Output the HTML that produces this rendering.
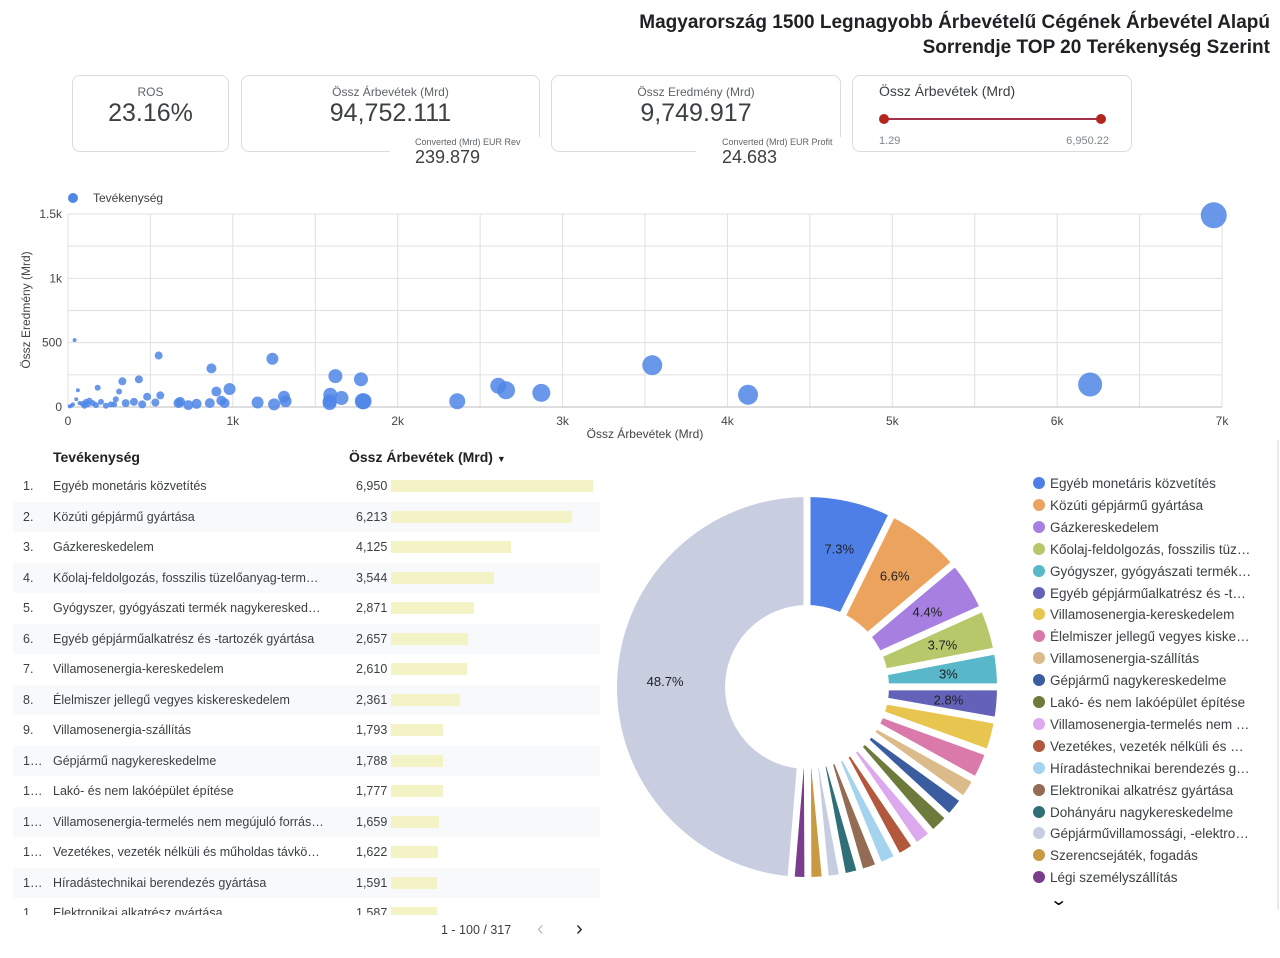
<!DOCTYPE html>
<html><head><meta charset="utf-8"><style>
body{margin:0;width:1280px;height:958px;background:#fff;font-family:"Liberation Sans",sans-serif;position:relative;overflow:hidden;color:#202124}
.abs{position:absolute}
.card{position:absolute;border:1px solid #dadce0;border-radius:8px;background:#fff}
.lbl{font-size:12px;color:#5f6368;text-align:center}
.big{font-size:25px;color:#3c4043;text-align:center}
.row{position:absolute;left:13px;width:587px;height:30px;font-size:12.5px;color:#3c4043}
.row span{position:absolute;top:8px}
.leg{position:absolute;left:1033px;font-size:13.5px;color:#3c4043;white-space:nowrap}
.leg i{display:inline-block;width:12px;height:12px;border-radius:50%;margin-right:5px;vertical-align:-1px}
</style></head><body>
<div class="abs" style="right:10px;top:10px;text-align:right;font-size:19px;font-weight:bold;line-height:25px;color:#202124">Magyarország 1500 Legnagyobb Árbevételű Cégének Árbevétel Alapú<br>Sorrendje TOP 20 Terékenység Szerint</div>

<div class="card" style="left:72px;top:75px;width:155px;height:75px">
<div class="lbl" style="margin-top:9px">ROS</div><div class="big">23.16%</div></div>
<div class="card" style="left:241px;top:75px;width:297px;height:75px">
<div class="lbl" style="margin-top:9px">Össz Árbevétek (Mrd)</div><div class="big">94,752.111</div></div>
<div class="abs" style="left:390px;top:137px;width:150px;height:34px;background:#fff">
<div style="font-size:9px;color:#5f6368;margin-left:25px">Converted (Mrd) EUR Rev</div><div style="font-size:18px;color:#3c4043;margin-left:25px">239.879</div></div>
<div class="card" style="left:551px;top:75px;width:288px;height:75px">
<div class="lbl" style="margin-top:9px">Össz Eredmény (Mrd)</div><div class="big">9,749.917</div></div>
<div class="abs" style="left:696px;top:137px;width:145px;height:34px;background:#fff">
<div style="font-size:9px;color:#5f6368;margin-left:26px">Converted (Mrd) EUR Profit</div><div style="font-size:18px;color:#3c4043;margin-left:26px">24.683</div></div>
<div class="card" style="left:852px;top:75px;width:278px;height:75px">
<div style="position:absolute;left:26px;top:7px;font-size:14px;color:#3c4043">Össz Árbevétek (Mrd)</div>
<div style="position:absolute;left:31px;top:42px;width:218px;height:2px;background:#a3324a"></div>
<div style="position:absolute;left:26px;top:38px;width:10px;height:10px;border-radius:50%;background:#b3261e"></div>
<div style="position:absolute;left:243px;top:38px;width:10px;height:10px;border-radius:50%;background:#b3261e"></div>
<div style="position:absolute;left:26px;top:59px;font-size:11px;color:#80868b">1.29</div>
<div style="position:absolute;right:22px;top:59px;font-size:11px;color:#80868b">6,950.22</div></div>

<svg id="scatter" class="abs" style="left:0;top:185px" width="1280" height="260"></svg>

<div class="abs" style="left:53px;top:449px;font-size:14px;font-weight:bold">Tevékenység</div>
<div class="abs" style="left:349px;top:449px;font-size:14px;font-weight:bold">Össz Árbevétek (Mrd) <span style="font-size:9px">▼</span></div>
<div id="table" class="abs" style="left:0;top:0;width:620px;height:915px;overflow:hidden"></div>
<div class="abs" style="left:441px;top:923px;font-size:12.5px;color:#3c4043">1 - 100 / 317</div>
<div class="abs" style="left:537px;top:918px;font-size:20px;color:#bdc1c6">‹</div>
<div class="abs" style="left:576px;top:918px;font-size:20px;color:#202124">›</div>

<svg id="pie" class="abs" style="left:600px;top:480px" width="420" height="420"></svg>
<div id="legend"></div>
<div class="abs" style="left:1052px;top:890px;font-size:16px;color:#000;transform:scaleX(1.4)">⌄</div>
<div class="abs" style="left:1277px;top:440px;width:2px;height:470px;background:#e8eaed"></div>

<script>
const NS='http://www.w3.org/2000/svg';
function mk(p,t,a){const e=document.createElementNS(NS,t);for(const k in a)e.setAttribute(k,a[k]);p.appendChild(e);return e;}
// ---- scatter data ----
const revX=[6950,6200,4125,3544,2871,2657,2610,2361,1793,1788,1777,1659,1622,1591,1587,1587,1320,1310,1250,1240,1150,980,950,930,900,860,870,780,730,680,670,550,560,530,480,430,450,400,330,310,350,290,280,260,230,180,200,170,150,130,120,100,90,60,50,40,30,20,10,70,110];
const profY=[1490,175,95,325,110,130,165,45,45,45,215,70,240,95,30,45,45,80,20,375,35,140,30,50,120,30,300,25,15,40,30,400,90,35,80,215,20,40,200,120,30,60,20,20,10,150,40,15,30,50,20,10,25,130,60,520,20,10,5,30,40];
const bubR=[13,12,10,10,9,9,8,8,8,8,7,7,7,7,7,7,6,6,6,6,6,6,5,5,5,5,5,5,5,5,5,4,4,4,4,4,4,4,4,3,4,3,3,3,3,3,3,3,3,3,3,3,3,2,2,2,2,2,2,2,3];
const xTicks=[0,1000,2000,3000,4000,5000,6000,7000];
const xTickLbl=['0','1k','2k','3k','4k','5k','6k','7k'];
const yTicks=[0,500,1000,1500];
const yTickLbl=['0','500','1k','1.5k'];
const sc=document.getElementById('scatter');
const X=v=>68+v*(1222-68)/7000, Y=v=>222-v*(222-29)/1500;
for(let v=0;v<=1500;v+=250){const g=mk(sc,'line',{x1:68,x2:1222,y1:Y(v),y2:Y(v),stroke:'#e0e0e0'});}
for(let v=0;v<=7000;v+=500){const g=mk(sc,'line',{x1:X(v),x2:X(v),y1:Y(0),y2:Y(1500),stroke:'#e0e0e0'});}
mk(sc,'line',{x1:68,x2:1222,y1:Y(0),y2:Y(0),stroke:'#bdbdbd'});
xTicks.forEach((v,i)=>{const t=mk(sc,'text',{x:X(v),y:240,'font-size':12,fill:'#444','text-anchor':'middle'});t.textContent=xTickLbl[i];});
yTicks.forEach((v,i)=>{const t=mk(sc,'text',{x:62,y:Y(v)+4,'font-size':12,fill:'#444','text-anchor':'end'});t.textContent=yTickLbl[i];});
let t=mk(sc,'text',{x:645,y:253,'font-size':12,fill:'#444','text-anchor':'middle'});t.textContent='Össz Árbevétek (Mrd)';
t=mk(sc,'text',{x:0,y:0,'font-size':12,fill:'#444','text-anchor':'middle',transform:'translate(30,125) rotate(-90)'});t.textContent='Össz Eredmény (Mrd)';
let c=mk(sc,'circle',{cx:73,cy:13,r:5,fill:'#4f86e8'});
t=mk(sc,'text',{x:93,y:17,'font-size':12,fill:'#3c4043'});t.textContent='Tevékenység';
revX.forEach((v,i)=>{const p=mk(sc,'circle',{cx:X(v),cy:Y(profY[i]),r:bubR[i],fill:'#4f86e8','fill-opacity':0.85});});

// ---- table ----
const names=['Egyéb monetáris közvetítés','Közúti gépjármű gyártása','Gázkereskedelem','Kőolaj-feldolgozás, fosszilis tüzelőanyag-term…','Gyógyszer, gyógyászati termék nagykeresked…','Egyéb gépjárműalkatrész és -tartozék gyártása','Villamosenergia-kereskedelem','Élelmiszer jellegű vegyes kiskereskedelem','Villamosenergia-szállítás','Gépjármű nagykereskedelme','Lakó- és nem lakóépület építése','Villamosenergia-termelés nem megújuló forrás…','Vezetékes, vezeték nélküli és műholdas távkö…','Híradástechnikai berendezés gyártása','Elektronikai alkatrész gyártása'];
const revenue=[6950,6213,4125,3544,2871,2657,2610,2361,1793,1788,1777,1659,1622,1591,1587];
const tb=document.getElementById('table');
names.forEach((n,i)=>{const r=document.createElement('div');r.className='row';r.style.top=(471+i*30.5)+'px';if(i%2)r.style.background='#f8f9fa';


r.innerHTML='<span style="left:10px">'+(i<9?(i+1)+'.':'1…')+'</span><span style="left:40px">'+n+'</span><span style="left:343px">'+revenue[i].toLocaleString('en-US')+'</span><div style="position:absolute;left:378px;top:9px;height:12px;background:#f3f3c6;width:'+(revenue[i]*202/6950)+'px"></div>';
tb.appendChild(r);});

// ---- donut ----
const pieLabels=['Egyéb monetáris közvetítés','Közúti gépjármű gyártása','Gázkereskedelem','Kőolaj-feldolgozás, fosszilis tüz…','Gyógyszer, gyógyászati termék…','Egyéb gépjárműalkatrész és -t…','Villamosenergia-kereskedelem','Élelmiszer jellegű vegyes kiske…','Villamosenergia-szállítás','Gépjármű nagykereskedelme','Lakó- és nem lakóépület építése','Villamosenergia-termelés nem …','Vezetékes, vezeték nélküli és …','Híradástechnikai berendezés g…','Elektronikai alkatrész gyártása','Dohányáru nagykereskedelme','Gépjárművillamossági, -elektro…','Szerencsejáték, fogadás','Légi személyszállítás','Egyéb'];
const pieShare=[7.3,6.6,4.4,3.7,3.0,2.8,2.75,2.5,1.9,1.9,1.9,1.75,1.7,1.7,1.65,1.5,1.45,1.45,1.4,48.7];
const pieColors=['#4e7fe6','#eba35e','#a67fe0','#b7c86b','#58b7c8','#6362b8','#e7c54f','#d97aab','#dcbb8a','#3a5da0','#6c7a3b','#dca8ee','#b2583c','#a3d3ef','#946b55','#2f7078','#c6cde0','#c99a42','#7a3c8c','#c8cee0'];
const pie=document.getElementById('pie');const cx=207,cy=207,R=190,r0=82;
const tot=pieShare.reduce((a,b)=>a+b,0);let a0=0;
const pt=(a,rr)=>[cx+rr*Math.sin(a),cy-rr*Math.cos(a)];
const bounds=[];
pieShare.forEach((v,i)=>{const a1=a0+v/tot*2*Math.PI;const [x0,y0]=pt(a0,R),[x1,y1]=pt(a1,R);const lg=(a1-a0)>Math.PI?1:0;
const p=mk(pie,'path',{d:`M${cx} ${cy}L${x0} ${y0}A${R} ${R} 0 ${lg} 1 ${x1} ${y1}Z`,fill:pieColors[i]});


bounds.push(a0);
if(v>=2.8){const [lx,ly]=pt((a0+a1)/2,i==19?142:142);const tx=mk(pie,'text',{x:lx,y:ly+5,'font-size':13,fill:'#202124','text-anchor':'middle'});tx.textContent=(Math.round(v*10)/10)+'%';

}
a0=a1;});
bounds.forEach(a=>{const [x,y]=pt(a,R+3);mk(pie,'line',{x1:cx,y1:cy,x2:x,y2:y,stroke:'#fff','stroke-width':7});});
mk(pie,'circle',{cx:cx,cy:cy,r:r0,fill:'#fff'});
// re-draw labels above
pie.querySelectorAll('text').forEach(e=>pie.appendChild(e));

const lg=document.getElementById('legend');
pieLabels.slice(0,19).forEach((n,i)=>{const d=document.createElement('div');d.className='leg';d.style.top=(476+i*21.9)+'px';


d.innerHTML='<i style="background:'+pieColors[i]+'"></i>'+n;lg.appendChild(d);});
</script>
</body></html>
